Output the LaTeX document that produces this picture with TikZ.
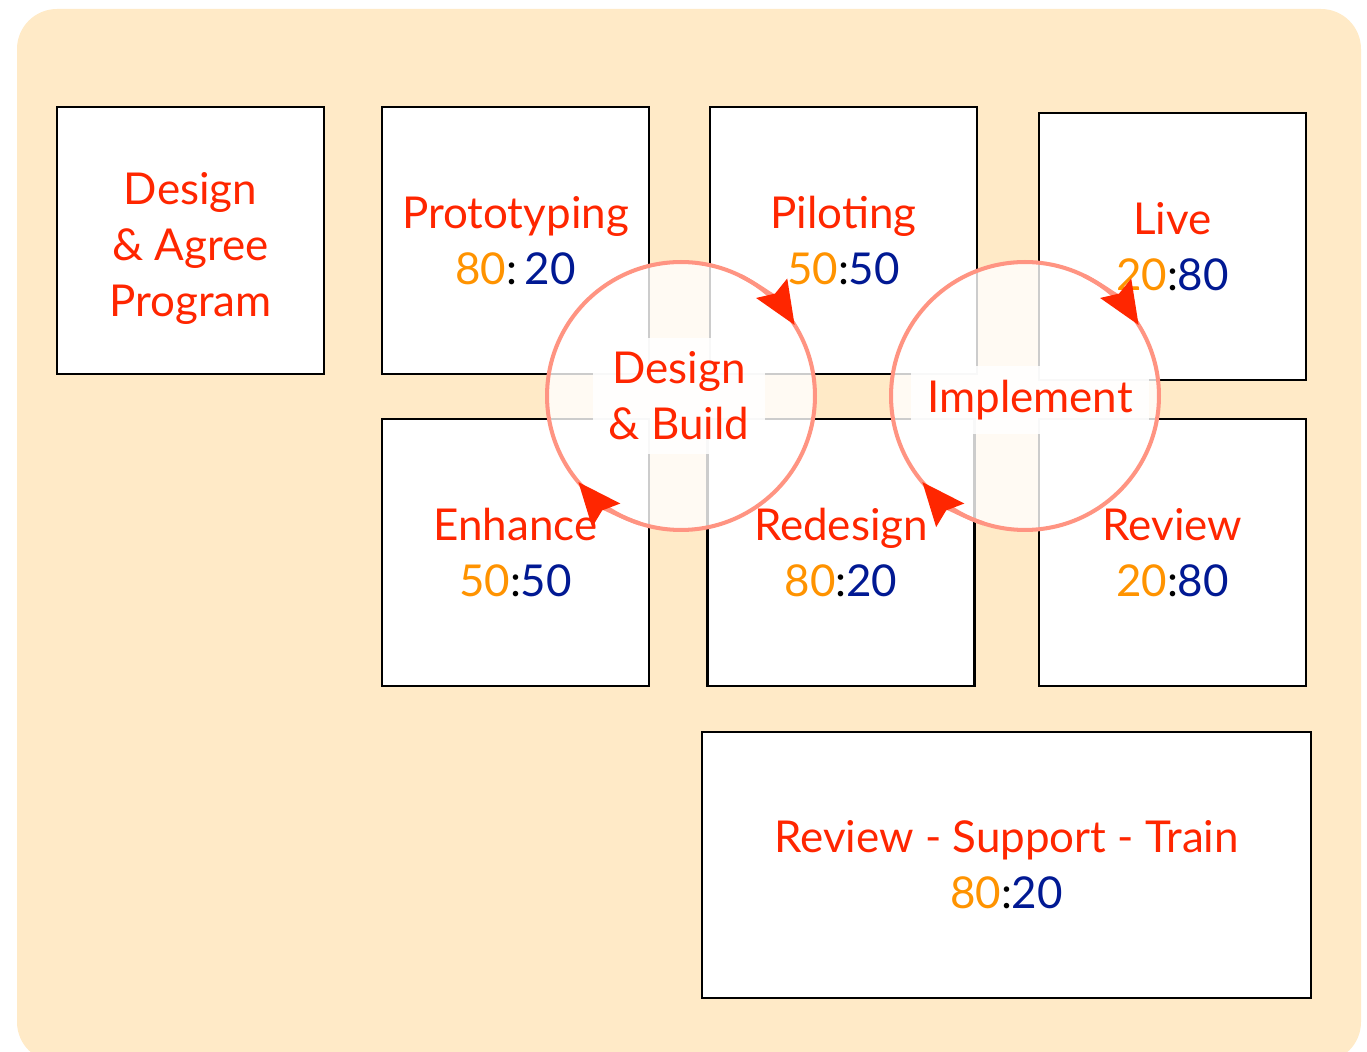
\documentclass[tikz,border=0pt]{standalone}
\usepackage{fontspec}
\setmainfont{Lato}
\usetikzlibrary{arrows.meta}
\usetikzlibrary{positioning}

\definecolor{bgtan}{RGB}{255,234,199}
\definecolor{txtred}{RGB}{255,38,0}
\definecolor{txtorange}{RGB}{255,147,0}
\definecolor{txtblue}{RGB}{1,25,147}
\definecolor{ringred}{RGB}{255,148,130}

\newcommand{\ratio}[2]{\textcolor{txtorange}{#1}\textcolor{black}{:}\textcolor{txtblue}{#2}}

\begin{document}
\begin{tikzpicture}[x=0.02cm,y=0.02cm,
	stage/.style={draw=black, line width=1.4pt, fill=white, inner sep=0pt,
		minimum width=5.34cm, minimum height=5.34cm, align=center,
		text=txtred, font=\fontsize{25}{32}\selectfont},
	stagetext/.style={align=center, text=txtred, font=\fontsize{25}{32}\selectfont},
	ring/.style={circle, draw=ringred, line width=2.3pt, fill=white, fill opacity=0.8,
		inner sep=0pt, outer sep=0pt, minimum size=5.36cm},
	ringtip/.style={draw=ringred, line width=2.3pt,
		-{Stealth[length=0.86cm, width=0.72cm, inset=0.12cm, color=txtred]}},
	tag/.style={fill=white, fill opacity=0.88, text opacity=1, text=txtred,
		align=center, inner xsep=9pt, inner ysep=8pt, font=\fontsize{25}{32}\selectfont}]

	\useasboundingbox (0,0) rectangle (1367,1052);

	%Frame
	\fill[bgtan, rounded corners=0.8cm] (17,-10) rectangle (1361,1043);

	%Stages
	%top row
	\node[stage] (agree) at (190.5,811.5) {};
	\node[stagetext] (agreetext) at ([yshift=-0.16cm]agree.center) {Design\\\& Agree\\Program};
	\node[stage] (proto) at (515.5,811.5) {Prototyping\\\textcolor{txtorange}{80}\textcolor{black}{:}\,\textcolor{txtblue}{20}};
	\node[stage] (pilot) at (843.5,811.5) {Piloting\\\ratio{50}{50}};
	\node[stage] (live) at (1172.5,805.5) {Live\\\ratio{20}{80}};

	%bottom row
	\node[stage] (enhance) at (515.5,499.5) {Enhance\\\ratio{50}{50}};
	\node[stage] (redesign) at (841,499.5) {Redesign\\\ratio{80}{20}};
	\node[stage] (review) at (1172.5,499.5) {Review\\\ratio{20}{80}};

	%support
	\node[stage, minimum width=12.18cm, minimum height=5.32cm] (support) at (1006.5,187)
		{Review - Support - Train\\\ratio{80}{20}};

	%Cycles
	%Design & Build
	\node[ring] (build) at (681,656) {};
	\draw[ringtip] (build.64) arc[start angle=64, end angle=32, radius=134];
	\draw[ringtip] (build.252) arc[start angle=252, end angle=220, radius=134];
	\node[tag] (buildtag) at (679,656) {Design\\\& Build};

	%Implement
	\node[ring] (implement) at (1025,656) {};
	\draw[ringtip] (implement.64) arc[start angle=64, end angle=32, radius=134];
	\draw[ringtip] (implement.252) arc[start angle=252, end angle=220, radius=134];
	\node[tag] (implementtag) at (1030,652) {Implement};

\end{tikzpicture}
\end{document}
